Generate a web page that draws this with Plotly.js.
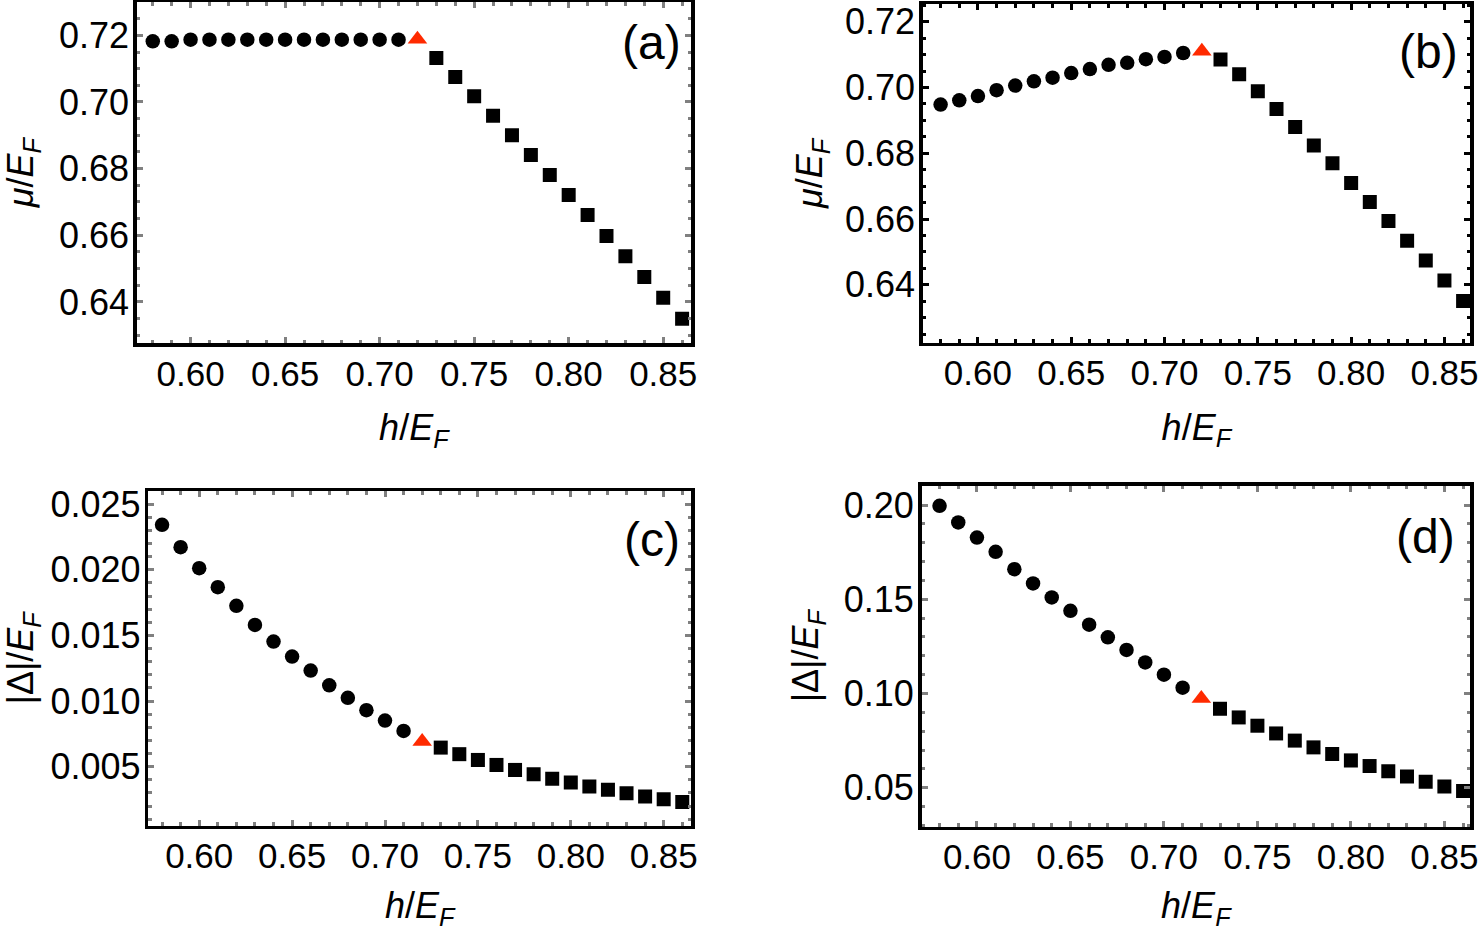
<!DOCTYPE html>
<html>
<head>
<meta charset="utf-8">
<script src="https://cdn.plot.ly/plotly-3.0.1.min.js"></script>
<style>html,body{margin:0;padding:0;background:#fff;}#chart{width:1479px;height:931px;}</style>
</head>
<body>
<div id="chart"></div>
<script>
// h/E_F values
const hCirc = [0.58,0.59,0.60,0.61,0.62,0.63,0.64,0.65,0.66,0.67,0.68,0.69,0.70,0.71];
const hTri = [0.72];
const hSq = [0.73,0.74,0.75,0.76,0.77,0.78,0.79,0.80,0.81,0.82,0.83,0.84,0.85,0.86];

// (a) mu/E_F
const aCirc = [0.7182,0.7182,0.7187,0.7187,0.7187,0.7187,0.7187,0.7187,0.7187,0.7187,0.7187,0.7187,0.7187,0.7187];
const aTri = [0.7188];
const aSq = [0.7132,0.7075,0.7017,0.6959,0.6900,0.6841,0.6781,0.6721,0.6661,0.6598,0.6537,0.6475,0.6413,0.6350];

// (b) mu/E_F
const bCirc = [0.6948,0.6961,0.6974,0.6992,0.7006,0.7019,0.7030,0.7044,0.7056,0.7069,0.7075,0.7086,0.7093,0.7105];
const bTri = [0.7110];
const bSq = [0.7085,0.7040,0.6989,0.6935,0.6880,0.6824,0.6770,0.6710,0.6652,0.6594,0.6534,0.6474,0.6413,0.6351];

// (c) |Delta|/E_F
const cCirc = [0.02342,0.02172,0.02012,0.01867,0.01725,0.01580,0.01453,0.01339,0.01232,0.01120,0.01024,0.00930,0.00851,0.00772];
const cTri = [0.00691];
const cSq = [0.00645,0.00595,0.00551,0.00513,0.00475,0.00442,0.00407,0.00379,0.00348,0.00323,0.00297,0.00272,0.00252,0.00231];

// (d) |Delta|/E_F
const dCirc = [0.1996,0.1908,0.1828,0.1752,0.1660,0.1584,0.1510,0.1439,0.1365,0.1298,0.1231,0.1165,0.1100,0.1031];
const dTri = [0.0974];
const dSq = [0.0919,0.0873,0.0829,0.0788,0.0750,0.0714,0.0679,0.0645,0.0615,0.0587,0.0559,0.0532,0.0507,0.0483];

const panelLabels = ['(a)','(b)','(c)','(d)'];
const xTitle = '<i>h</i>/<i>E</i><sub><i>F</i></sub>';
const muTitle = '<i>μ</i>/<i>E</i><sub><i>F</i></sub>';
const gapTitle = '|Δ|/<i>E</i><sub><i>F</i></sub>';

const FONT = 'Liberation Sans, Arial, Helvetica, sans-serif';
const RED = '#ff2a00';

function series(xa, ya, circ, tri, sq) {
  return [
    {x: hCirc, y: circ, xaxis: xa, yaxis: ya, type: 'scatter', mode: 'markers',
     marker: {symbol: 'circle', size: 14.5, color: '#000'}, showlegend: false, hoverinfo: 'x+y'},
    {x: hTri, y: tri, xaxis: xa, yaxis: ya, type: 'scatter', mode: 'markers',
     marker: {symbol: 'triangle-up', size: 17, color: RED}, showlegend: false, hoverinfo: 'x+y'},
    {x: hSq, y: sq, xaxis: xa, yaxis: ya, type: 'scatter', mode: 'markers',
     marker: {symbol: 'square', size: 14, color: '#000'}, showlegend: false, hoverinfo: 'x+y'}
  ];
}

const data = [].concat(
  series('x', 'y', aCirc, aTri, aSq),
  series('x2', 'y2', bCirc, bTri, bSq),
  series('x3', 'y3', cCirc, cTri, cSq),
  series('x4', 'y4', dCirc, dTri, dSq)
);

function xaxis(domain, range, anchor, tcol, standoff) {
  return {
    domain: domain, range: range, anchor: anchor,
    tick0: 0.6, dtick: 0.05, tickformat: '.2f',
    ticks: 'inside', ticklen: 6, tickwidth: 3, tickcolor: tcol,
    minor: {dtick: 0.01, ticks: 'inside', ticklen: 3.5, tickwidth: 3, tickcolor: tcol},
    showline: true, linecolor: '#000', linewidth: 3.5, mirror: 'allticks',
    showgrid: false, zeroline: false,
    tickfont: {family: FONT, size: 35, color: '#000'},
    ticklabelstandoff: -3,
    title: {text: xTitle, font: {family: FONT, size: 36, color: '#000'}, standoff: standoff}
  };
}
function yaxis(domain, range, anchor, dtick, mdtick, fmt, tcol, title, standoff) {
  return {
    domain: domain, range: range, anchor: anchor,
    dtick: dtick, tick0: 0, tickformat: fmt,
    ticks: 'inside', ticklen: 6, tickwidth: 3, tickcolor: tcol,
    minor: {dtick: mdtick, ticks: 'inside', ticklen: 3.5, tickwidth: 3, tickcolor: tcol},
    showline: true, linecolor: '#000', linewidth: 3.5, mirror: 'allticks',
    showgrid: false, zeroline: false,
    tickfont: {family: FONT, size: 36, color: '#000'},
    ticklabelstandoff: -3,
    title: {text: title, font: {family: FONT, size: 36, color: '#000'}, standoff: standoff}
  };
}

const GRAY = '#808080';
const W = 1479, H = 931;
function dx(a, b) { return [a / W, b / W]; }
function dy(top, bottom) { return [1 - bottom / H, 1 - top / H]; }

const layout = {
  width: W, height: H,
  margin: {l: 0, r: 0, t: 0, b: 0},
  paper_bgcolor: '#fff', plot_bgcolor: '#fff',
  showlegend: false,
  font: {family: FONT, color: '#000'},
  xaxis: xaxis(dx(136.7, 691), [0.5715, 0.8647], 'y', GRAY, 24),
  yaxis: yaxis(dy(2, 343.3), [0.6276, 0.7300], 'x', 0.02, 0.005, '.2f', GRAY, muTitle, 18),
  xaxis2: xaxis(dx(922.7, 1470), [0.5704, 0.8637], 'y2', '#000', 24),
  yaxis2: yaxis(dy(4, 342.7), [0.6224, 0.7254], 'x2', 0.02, 0.005, '.2f', '#000', muTitle, 12),
  xaxis3: xaxis(dx(148.3, 691), [0.5726, 0.8647], 'y3', GRAY, 34),
  yaxis3: yaxis(dy(491, 825.7), [0.0005, 0.0260], 'x3', 0.005, 0.001, '.3f', GRAY, gapTitle, 22),
  xaxis4: xaxis(dx(921.6, 1470), [0.5704, 0.8637], 'y4', GRAY, 34),
  yaxis4: yaxis(dy(485.7, 826.7), [0.0293, 0.2103], 'x4', 0.05, 0.01, '.2f', GRAY, gapTitle, 15),
  annotations: [
    {text: panelLabels[0], xref: 'x domain', yref: 'y domain', x: 0.985, y: 0.88, xanchor: 'right', yanchor: 'middle', showarrow: false, font: {family: FONT, size: 48, color: '#000'}},
    {text: panelLabels[1], xref: 'x2 domain', yref: 'y2 domain', x: 0.982, y: 0.861, xanchor: 'right', yanchor: 'middle', showarrow: false, font: {family: FONT, size: 48, color: '#000'}},
    {text: panelLabels[2], xref: 'x3 domain', yref: 'y3 domain', x: 0.984, y: 0.854, xanchor: 'right', yanchor: 'middle', showarrow: false, font: {family: FONT, size: 48, color: '#000'}},
    {text: panelLabels[3], xref: 'x4 domain', yref: 'y4 domain', x: 0.977, y: 0.85, xanchor: 'right', yanchor: 'middle', showarrow: false, font: {family: FONT, size: 48, color: '#000'}}
  ]
};

Plotly.newPlot('chart', data, layout, {displayModeBar: false, staticPlot: true});
</script>
</body>
</html>
